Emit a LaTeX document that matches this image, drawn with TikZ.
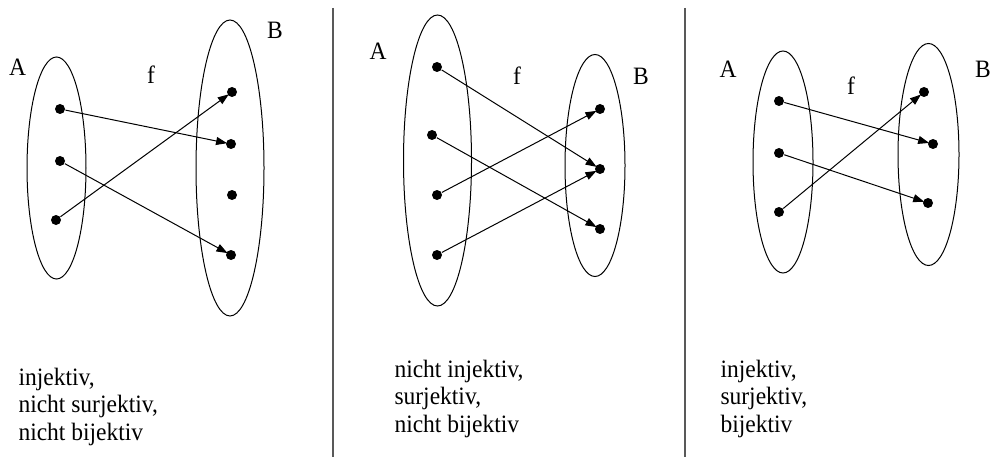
\documentclass[tikz,border=0pt]{standalone}
\usepackage{fontspec}
\setmainfont{Liberation Serif}[FakeStretch=0.94]
\usetikzlibrary{arrows.meta}
\begin{document}
\begin{tikzpicture}[x=1pt,y=-1pt,line width=1pt,
  pt/.style={circle,fill=black,inner sep=0pt,minimum size=10pt},
  lbl/.style={inner sep=0pt,anchor=base,font=\fontsize{25}{27}\selectfont},
  txt/.style={inner sep=0pt,anchor=base west,font=\fontsize{25}{27}\selectfont},
  set/.style={draw=black,line width=1pt},
  arr/.style={-{Triangle[length=11pt,width=8pt]},line width=1pt,shorten >=-1.5pt},
  sep/.style={draw=black!65,line width=1.1pt}]
\useasboundingbox (0,0) rectangle (992,457);
% separators
\coordinate (s1t) at (333,8); \coordinate (s1b) at (333,457);
\coordinate (s2t) at (685,8); \coordinate (s2b) at (685,457);
\draw[sep] (s1t) -- (s1b);
\draw[sep] (s2t) -- (s2b);
% ---------- panel 1 ----------
\draw[set] (56.5,168) ellipse [x radius=29.5,y radius=111];
\draw[set] (230,168) ellipse [x radius=34,y radius=148];
\node[lbl] (pA1) at (17.5,76) {A};
\node[lbl] (pB1) at (275,39) {B};
\node[lbl] (pf1) at (151,84) {f};
\node[pt] (a11) at (60,109) {};
\node[pt] (a12) at (60,161) {};
\node[pt] (a13) at (56,220) {};
\node[pt] (b11) at (232,92) {};
\node[pt] (b12) at (231,144) {};
\node[pt] (b13) at (232,195) {};
\node[pt] (b14) at (231,255) {};
\draw[arr] (a11) -- (b12);
\draw[arr] (a12) -- (b14);
\draw[arr] (a13) -- (b11);
\node[txt] (t11) at (18,385) {injektiv,};
\node[txt] (t12) at (18,412.5) {nicht surjektiv,};
\node[txt] (t13) at (18,440) {nicht bijektiv};
% ---------- panel 2 ----------
\draw[set] (437.5,160.5) ellipse [x radius=34,y radius=145.5];
\draw[set] (595,165.5) ellipse [x radius=30,y radius=111];
\node[lbl] (pA2) at (378,60) {A};
\node[lbl] (pB2) at (641,85) {B};
\node[lbl] (pf2) at (517,85) {f};
\node[pt] (a21) at (437,67) {};
\node[pt] (a22) at (432,135) {};
\node[pt] (a23) at (437,195) {};
\node[pt] (a24) at (437,255) {};
\node[pt] (b21) at (600,109) {};
\node[pt] (b22) at (600,169) {};
\node[pt] (b23) at (600,229) {};
\draw[arr] (a21) -- (b22);
\draw[arr] (a22) -- (b23);
\draw[arr] (a23) -- (b21);
\draw[arr] (a24) -- (b22);
\node[txt] (t21) at (394,377) {nicht injektiv,};
\node[txt] (t22) at (394,404.5) {surjektiv,};
\node[txt] (t23) at (394,432) {nicht bijektiv};
% ---------- panel 3 ----------
\draw[set] (783,162) ellipse [x radius=30,y radius=111];
\draw[set] (928.5,154.5) ellipse [x radius=30.5,y radius=111];
\node[lbl] (pA3) at (728,78) {A};
\node[lbl] (pB3) at (983,78) {B};
\node[lbl] (pf3) at (851,94.5) {f};
\node[pt] (a31) at (779,101) {};
\node[pt] (a32) at (779,153) {};
\node[pt] (a33) at (779,212) {};
\node[pt] (b31) at (924,92) {};
\node[pt] (b32) at (933,144) {};
\node[pt] (b33) at (928,203) {};
\draw[arr] (a31) -- (b32);
\draw[arr] (a32) -- (b33);
\draw[arr] (a33) -- (b31);
\node[txt] (t31) at (720,377) {injektiv,};
\node[txt] (t32) at (720,404.5) {surjektiv,};
\node[txt] (t33) at (720,432) {bijektiv};
\end{tikzpicture}
\end{document}
